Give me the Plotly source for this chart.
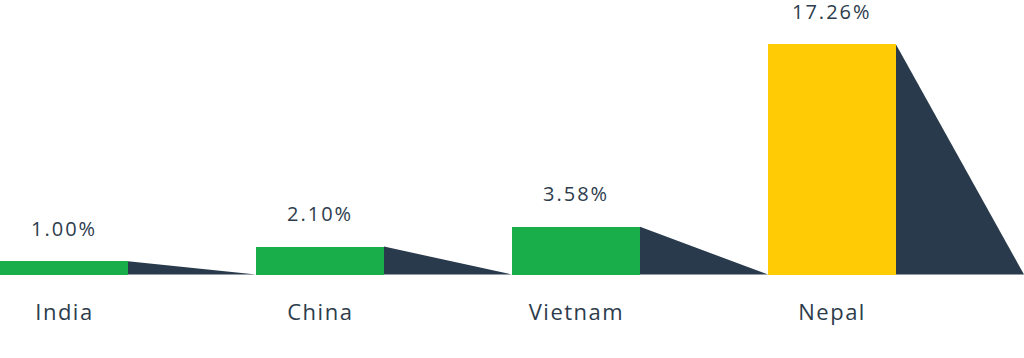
import plotly.graph_objects as go

categories = ["India", "China", "Vietnam", "Nepal"]
values = [1.00, 2.10, 3.58, 17.26]
value_labels = ["1.00%", "2.10%", "3.58%", "17.26%"]
bar_colors = ["#1aae4b", "#1aae4b", "#1aae4b", "#ffcb05"]
shadow_color = "#283a4b"
text_color = "#2d3c4c"

xs = list(range(len(categories)))
fig = go.Figure()

# shadow triangles to the right of each bar
for i, v in zip(xs, values):
    fig.add_trace(go.Scatter(
        x=[i + 0.25, i + 0.25, i + 0.75, i + 0.25],
        y=[v, 0, 0, v],
        fill="toself", fillcolor=shadow_color, mode="lines",
        line=dict(width=0, color=shadow_color), hoverinfo="skip", showlegend=False))

fig.add_trace(go.Bar(x=xs, y=values, width=0.5, marker=dict(color=bar_colors, line=dict(width=0)),
                     showlegend=False, hoverinfo="skip"))

for i, v, lab, cat in zip(xs, values, value_labels, categories):
    fig.add_annotation(x=i, y=v, text=lab, showarrow=False, yanchor="middle", yshift=33,
                       font=dict(family="Open Sans", size=20, color=text_color))
    fig.add_annotation(x=i, y=0, text=cat, showarrow=False, yanchor="middle", yshift=-36,
                       font=dict(family="Open Sans", size=22, color=text_color))

fig.update_layout(
    width=1024, height=358, margin=dict(l=0, r=0, t=0, b=0),
    paper_bgcolor="white", plot_bgcolor="white", bargap=0,
    xaxis=dict(range=[-0.25, 3.75], visible=False, fixedrange=True),
    yaxis=dict(range=[-6.26, 20.59], visible=False, fixedrange=True),
)

post = """
document.querySelectorAll('.annotation-text').forEach(function(t){
  t.style.letterSpacing = (t.textContent.indexOf('%') >= 0) ? '2px' : '1.5px';
});
"""
fig.write_html("out.html", config={"staticPlot": True}, post_script=post)
